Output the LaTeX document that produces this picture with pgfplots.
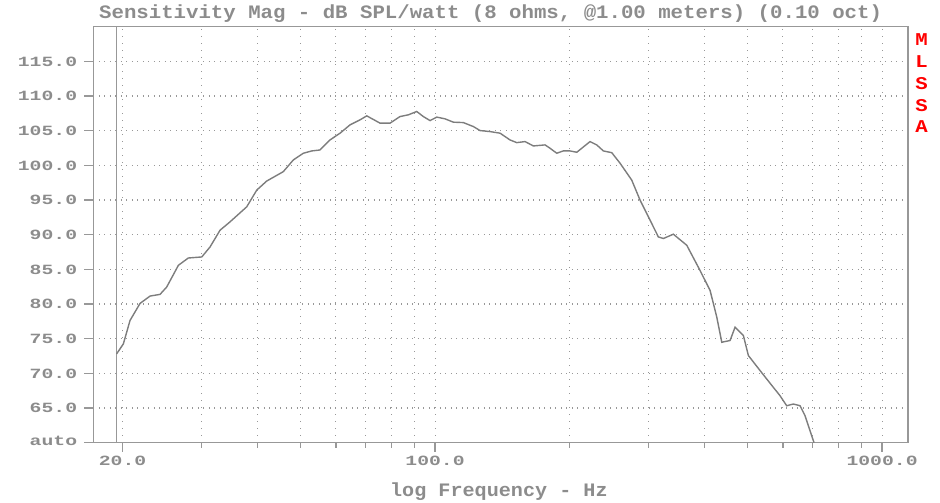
\documentclass[border=0pt]{standalone}
\usepackage{pgfplots}
\pgfplotsset{compat=1.18}
\usepackage{fontspec}
\newfontfamily\tickfont[FakeStretch=1.40]{Liberation Mono Bold}
\newfontfamily\labfont[FakeStretch=1.06]{Liberation Mono Bold}
\newfontfamily\titfont[FakeStretch=1.09]{Liberation Mono Bold}
\newfontfamily\redfont[FakeStretch=1.15]{Liberation Mono Bold}
\definecolor{tgray}{RGB}{140,140,140}
\definecolor{lgray}{RGB}{152,152,152}
\definecolor{cgray}{RGB}{125,125,125}
\begin{document}
\begin{tikzpicture}[x=1pt,y=1pt]
\path[use as bounding box] (-93.3,-60.3) rectangle (846.7,442.7);
\begin{axis}[
  at={(0,0)}, anchor=south west,
  scale only axis, width=814.7pt, height=416pt,
  xmode=log, xmin=17.2, xmax=1143, ymin=60, ymax=120,
  axis line style={lgray, line width=1.3pt},
  xtick={20,100,1000}, xticklabels={20.0,100.0,1000.0},
  minor xtick={30,40,50,60,70,80,90,200,300,400,500,600,700,800,900},
  ytick={60,65,70,75,80,85,90,95,100,105,110,115},
  yticklabels={\raisebox{4pt}{auto},65.0,70.0,75.0,80.0,85.0,90.0,95.0,100.0,105.0,110.0,115.0},
  tick align=outside, xtick pos=bottom, ytick pos=left,
  tick style={lgray, line width=1.3pt},
  major tick length=9pt, minor tick length=5pt,
  grid=both,
  major x grid style={lgray, line width=1.1pt, dash pattern=on 1.1pt off 5.9pt},
  minor x grid style={lgray, line width=1.1pt, dash pattern=on 1.1pt off 5.9pt},
  major y grid style={lgray, line width=1.1pt, dash pattern=on 1.1pt off 4.4pt},
  ticklabel style={font=\tickfont\fontsize{14.1}{14}\selectfont, text=tgray},
  xticklabel style={anchor=north, inner sep=0pt, yshift=-4pt},
  yticklabel style={anchor=east, inner sep=0pt, xshift=-7pt},
  title={Sensitivity Mag - dB SPL/watt (8 ohms, @1.00 meters) (0.10 oct)},
  title style={at={(0.4877,1)}, anchor=base, yshift=2pt, inner sep=0pt,
    font=\titfont\fontsize{19}{19}\selectfont, text=tgray},
  xlabel={log Frequency - Hz},
  xlabel style={at={(axis description cs:0.4978,0)}, anchor=base, yshift=-54pt, inner sep=0pt,
    font=\labfont\fontsize{19}{19}\selectfont, text=tgray},
  clip=true,
]
\addplot[lgray, line width=1.4pt] coordinates {(19.4,60) (19.4,120)};
\addplot[cgray, line width=1.4pt] coordinates {
(19.40,72.81) (20.08,74.26) (20.78,77.63) (21.88,80.09) (23.04,81.15)
(24.25,81.39) (25.10,82.45) (26.66,85.59) (28.06,86.64) (30.07,86.79)
(31.38,88.23) (33.04,90.65) (34.78,91.85) (37.91,94.02) (39.93,96.44)
(42.02,97.74) (45.76,99.09) (48.19,100.78) (50.74,101.75) (52.98,102.08)
(55.29,102.22) (58.22,103.67) (61.30,104.64) (64.54,105.84) (67.97,106.57)
(70.35,107.14) (75.33,106.09) (79.33,106.09) (83.50,107.04) (87.16,107.29)
(91.00,107.77) (94.14,107.04) (97.46,106.46) (100.9,106.96) (105.3,106.71)
(109.9,106.23) (115.7,106.17) (121.8,105.60) (126.1,105.02) (132.8,104.87)
(139.8,104.64) (147.1,103.67) (152.3,103.28) (159.0,103.43) (166.0,102.80)
(176.2,102.95) (180.8,102.47) (187.2,101.75) (193.6,102.08) (200.5,102.08)
(207.5,101.89) (222.2,103.43) (230.0,102.95) (238.0,102.08) (248.5,101.83)
(259.4,100.30) (275.4,97.88) (287.5,94.99) (302.7,92.10) (315.9,89.68)
(324.2,89.45) (341.3,90.07) (365.7,88.48) (391.5,84.86) (412.3,81.97)
(426.8,78.11) (438.0,74.49) (457.1,74.74) (469.0,76.66) (477.1,76.18)
(489.5,75.46) (502.3,72.57) (533.5,70.40) (571.2,67.98) (591.2,66.78)
(612.0,65.33) (633.3,65.58) (655.5,65.33) (672.6,63.89) (690.1,61.72)
(704.5,60.00)
};
\end{axis}
\begin{scope}[every node/.style={text=red, font=\redfont\fontsize{18}{18}\selectfont, inner sep=0pt}]
\node at (828.4,402.7) {M};
\node at (828.4,381.0) {L};
\node at (828.4,359.3) {S};
\node at (828.4,337.6) {S};
\node at (828.4,315.9) {A};
\end{scope}
\end{tikzpicture}
\end{document}
